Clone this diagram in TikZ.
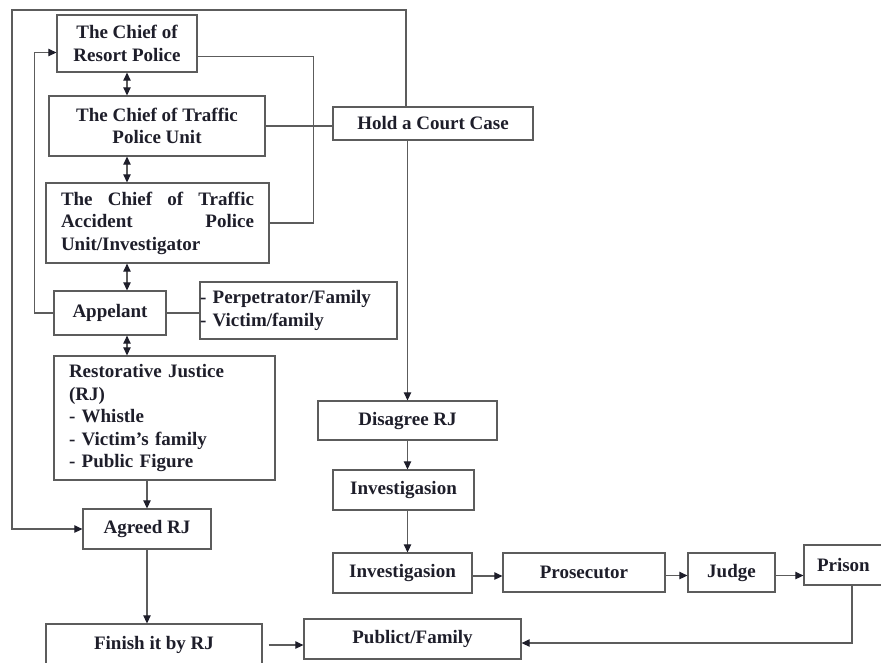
\documentclass[tikz,border=0pt]{standalone}
\usepackage{fontspec}
\usetikzlibrary{arrows.meta}
\setmainfont{Liberation Serif}
\definecolor{ink}{HTML}{1E1E2A}
\definecolor{edge}{HTML}{5C5C5C}
\begin{document}
\begin{tikzpicture}[>={Triangle[length=8pt, width=7.5pt, color=ink]}, x=1pt, y=-1pt,
    every node/.style={font=\fontsize{19}{22.5}\selectfont\bfseries, text=ink},
    box/.style={draw=edge, line width=1.3pt, align=center, inner sep=2pt},
    boxl/.style={box, align=left},
    link/.style={draw=edge, line width=1.2pt}]
\useasboundingbox (0,0) rectangle (881,662);
% left column
\node (resort) at (127,43.5)[box, minimum width=140pt, minimum height=57pt]{The Chief of\\Resort Police};
\node (traffic) at (157,126)[box, minimum width=216pt, minimum height=60pt]{The Chief of Traffic\\Police Unit};
\node (accident) at (157.5,223)[boxl, text width=193pt, inner xsep=15pt, minimum height=80pt]{The\hfill Chief\hfill of\hfill Traffic\\Accident\hfill Police\\Unit/Investigator};
\node (appelant) at (110,313)[box, minimum width=112pt, minimum height=44pt]{Appelant};
\node (parties) at (298.5,310.5)[boxl, text width=197pt, inner xsep=0pt, minimum height=57pt]{- Perpetrator/Family\\- Victim/family};
\node (rj) at (164.5,418)[boxl, text width=191pt, inner xsep=15pt, minimum height=124pt]{Restorative Justice\\(RJ)\\- Whistle\\- Victim's family\\- Public Figure};
\node (agreed) at (147,529)[box, minimum width=128pt, minimum height=40pt]{Agreed RJ};
\node (finish) at (154,645)[box, minimum width=216pt, minimum height=42pt]{Finish it by RJ};
% right column
\node (court) at (433,123.5)[box, minimum width=200pt, minimum height=33pt]{Hold a Court Case};
\node (disagree) at (407.5,420.5)[box, minimum width=179pt, minimum height=39pt]{Disagree RJ};
\node (invA) at (403.5,490)[box, minimum width=141pt, minimum height=40pt]{Investigasion};
\node (invB) at (402.5,573)[box, minimum width=139pt, minimum height=40pt]{Investigasion};
\node (prosecutor) at (584,572.5)[box, minimum width=162pt, minimum height=39pt]{Prosecutor};
\node (judge) at (731.5,572.5)[box, minimum width=87pt, minimum height=39pt]{Judge};
\node (prison) at (843,565)[boxl, text width=52pt, inner xsep=13pt, minimum height=40pt]{Prison};
\node (public) at (412.5,639)[box, minimum width=217pt, minimum height=40pt]{Publict/Family};
\coordinate (topR) at (406,10);
\coordinate (topL) at (12,10);
% connectors
\foreach \a/\b in {resort/traffic, traffic/accident, accident/appelant, appelant/rj}
{
    \draw[link, <->](\a.south -| resort.south)--(\b.north -| resort.south);
}
\draw[link, ->](appelant.west)--++(-19,0)|-([yshift=-9pt]resort.west);
\draw[link, ->](court.north -| topR)--(topR)--(topL)|-(agreed.west);
\draw[link]([yshift=-13pt]resort.east)-|([xshift=44pt]accident.east)--(accident.east);
\draw[link](traffic.east)--(traffic.east -| court.west);
\draw[link](appelant.east)--(appelant.east -| parties.west);
\draw[link, ->](rj.south -| agreed.north)--(agreed.north);
\draw[link, ->](agreed.south)--(agreed.south |- finish.north);
\draw[link, ->]([xshift=6pt]finish.east)--(finish.east -| public.west);
\draw[link, ->](court.south -| disagree.north)--(disagree.north);
\draw[link, ->](disagree.south)--(disagree.south |- invA.north);
\draw[link, ->](invA.south -| disagree.south)--(disagree.south |- invB.north);
\foreach \a/\b in {invB/prosecutor, prosecutor/judge, judge/prison}
{
    \draw[link, ->]([yshift=-3pt]\a.east)--([yshift=-3pt]\a.east -| \b.west);
}
\draw[link, ->]([xshift=9pt]prison.south)|-([yshift=-4pt]public.east);
\end{tikzpicture}
\end{document}
